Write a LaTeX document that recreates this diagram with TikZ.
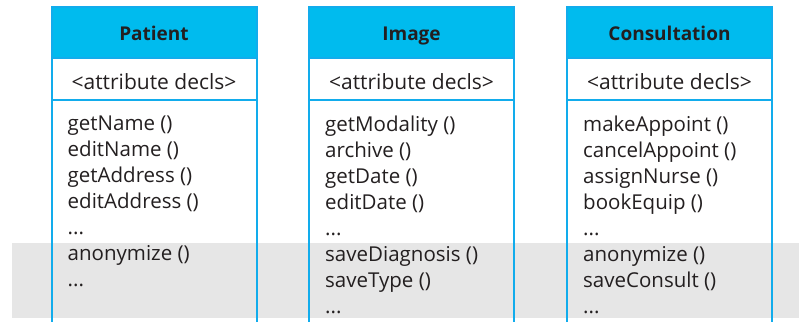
\documentclass[tikz,border=0pt]{standalone}
\usepackage{fontspec}
\setmainfont{Open Sans}
\usetikzlibrary{positioning}
\definecolor{headcol}{RGB}{0,187,238}
\definecolor{framecol}{RGB}{18,172,236}
\definecolor{bandcol}{RGB}{230,230,230}
\definecolor{inkcol}{RGB}{35,31,32}
\tikzset{
  part/.style={draw=framecol,line width=1pt,minimum width=204pt,inner sep=0pt,text=inkcol},
  classhead/.style={part,fill=headcol,minimum height=50pt,text height=18pt,text depth=3pt,
    font=\fontsize{19}{23}\selectfont\bfseries},
  attrpart/.style={part,minimum height=41pt,text height=23pt,text depth=2pt,
    font=\fontsize{21}{25}\selectfont},
  opspart/.style={part,minimum height=250pt},
  opslist/.style={align=left,inner sep=0pt,text=inkcol,font=\fontsize{20.5}{26}\selectfont},
  frame/.style={draw=framecol,line width=2pt}
}

\begin{document}
\begin{tikzpicture}[x=1pt,y=1pt]
  \useasboundingbox (0,0) rectangle (799,321);
  \clip (0,0) rectangle (799,321);
  % grey band
  \fill[bandcol] (12,3) rectangle (799,78);
  % Patient
  \begin{scope}[xshift=154pt]
     \node[classhead] (pathead) at (0,288) {Patient};
     \node[attrpart,below=0pt of pathead] (patattr) {<attribute decls>};
     \node[opspart,below=0pt of patattr] (patops) {};
     \node[opslist,below right=15pt and 16pt of patattr.south west] (patlist)
       {getName ()\\editName ()\\getAddress ()\\editAddress ()\\...\\anonymize ()\\...};
     \draw[frame] (pathead.north west) rectangle (patops.south east);
  \end{scope}
  % Image
  \begin{scope}[xshift=411.5pt]
     \node[classhead] (imghead) at (0,288) {Image};
     \node[attrpart,below=0pt of imghead] (imgattr) {<attribute decls>};
     \node[opspart,below=0pt of imgattr] (imgops) {};
     \node[opslist,below right=15pt and 16pt of imgattr.south west] (imglist)
       {getModality ()\\archive ()\\getDate ()\\editDate ()\\...\\saveDiagnosis ()\\saveType ()\\...};
     \draw[frame] (imghead.north west) rectangle (imgops.south east);
  \end{scope}
  % Consultation
  \begin{scope}[xshift=669.5pt]
     \node[classhead] (conhead) at (0,288) {Consultation};
     \node[attrpart,below=0pt of conhead] (conattr) {<attribute decls>};
     \node[opspart,below=0pt of conattr] (conops) {};
     \node[opslist,below right=15pt and 16pt of conattr.south west] (conlist)
       {makeAppoint ()\\cancelAppoint ()\\assignNurse ()\\bookEquip ()\\...\\anonymize ()\\saveConsult ()\\...};
     \draw[frame] (conhead.north west) rectangle (conops.south east);
  \end{scope}
\end{tikzpicture}
\end{document}
